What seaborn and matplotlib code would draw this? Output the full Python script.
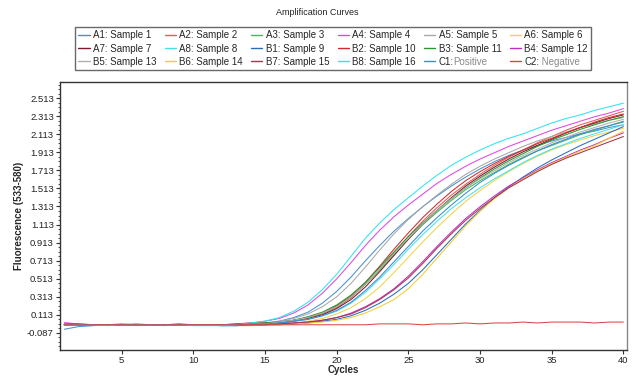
import numpy as np
import pandas as pd
import matplotlib
matplotlib.use("Agg")
import matplotlib.pyplot as plt
from matplotlib.ticker import FixedLocator
from matplotlib.lines import Line2D
import seaborn as sns

cycles = list(range(1, 41))

A1 = [-0.05,-0.02,-0.01,0.00,0.00,0.00,0.00,0.00,0.00,0.00,
      0.00,0.00,0.00,0.01,0.02,0.04,0.08,0.14,0.24,0.37,
      0.53,0.71,0.88,1.04,1.18,1.31,1.43,1.54,1.64,1.73,
      1.81,1.88,1.94,1.99,2.04,2.08,2.12,2.15,2.19,2.22]
A2 = [0.00,0.00,0.00,0.00,0.01,0.00,0.00,0.00,0.00,0.00,
      0.00,0.00,0.00,0.00,0.01,0.02,0.04,0.07,0.12,0.19,
      0.30,0.45,0.62,0.80,0.98,1.15,1.30,1.44,1.56,1.67,
      1.77,1.86,1.94,2.02,2.09,2.16,2.22,2.27,2.32,2.37]
A3 = [0.00,0.00,0.00,0.00,0.00,0.00,0.00,0.00,0.00,0.00,
      0.00,0.00,0.00,0.01,0.01,0.03,0.05,0.08,0.13,0.20,
      0.31,0.45,0.61,0.78,0.95,1.11,1.25,1.38,1.50,1.60,
      1.69,1.78,1.86,1.93,1.99,2.05,2.11,2.16,2.21,2.26]
A4 = [0.02,0.01,0.00,0.00,0.00,0.01,0.00,0.00,0.00,0.00,
      0.00,0.00,0.01,0.02,0.04,0.07,0.13,0.22,0.35,0.51,
      0.69,0.88,1.05,1.20,1.33,1.45,1.57,1.67,1.76,1.84,
      1.91,1.98,2.04,2.10,2.16,2.21,2.26,2.31,2.35,2.40]
A5 = [0.00,0.00,0.00,0.00,0.00,0.00,0.00,-0.01,0.00,0.00,
      0.00,0.00,0.00,0.01,0.02,0.04,0.07,0.12,0.20,0.31,
      0.46,0.64,0.83,1.01,1.17,1.31,1.44,1.56,1.67,1.76,
      1.84,1.91,1.98,2.04,2.09,2.14,2.19,2.23,2.27,2.30]
A6 = [0.00,0.00,0.00,0.00,0.00,0.00,0.00,0.00,0.00,0.00,
      0.00,0.00,-0.01,-0.01,0.00,0.01,0.02,0.04,0.07,0.12,
      0.19,0.29,0.42,0.58,0.75,0.92,1.08,1.23,1.37,1.49,
      1.60,1.70,1.79,1.87,1.94,2.00,2.05,2.10,2.14,2.18]
A7 = [0.00,0.00,0.00,0.00,0.00,0.00,0.00,0.00,0.00,0.00,
      0.00,0.00,0.00,0.01,0.01,0.02,0.04,0.07,0.11,0.18,
      0.28,0.42,0.59,0.77,0.95,1.12,1.27,1.41,1.54,1.65,
      1.75,1.84,1.92,1.99,2.06,2.13,2.19,2.24,2.29,2.33]
A8 = [0.00,0.00,0.00,0.00,0.00,0.00,0.00,0.00,0.00,0.00,
      0.00,-0.01,-0.01,0.00,0.01,0.02,0.04,0.06,0.10,0.15,
      0.24,0.36,0.51,0.67,0.84,1.00,1.15,1.29,1.41,1.52,
      1.62,1.71,1.80,1.88,1.95,2.01,2.07,2.12,2.17,2.22]
B1 = [0.00,0.00,0.00,0.00,0.00,0.00,0.00,0.00,0.00,0.00,
      0.00,-0.01,-0.01,0.00,0.00,0.00,0.01,0.02,0.04,0.06,
      0.10,0.16,0.24,0.34,0.46,0.61,0.78,0.95,1.12,1.27,
      1.41,1.53,1.64,1.74,1.83,1.91,1.99,2.06,2.13,2.20]
B2 = [0.00,0.00,0.00,0.00,0.00,0.00,0.00,0.00,0.01,0.00,
      0.00,0.00,0.01,0.02,0.02,0.03,0.05,0.08,0.13,0.21,
      0.32,0.47,0.65,0.84,1.02,1.19,1.34,1.48,1.60,1.70,
      1.79,1.87,1.94,2.01,2.07,2.13,2.19,2.25,2.30,2.34]
B3 = [0.00,0.00,0.00,0.00,0.00,0.00,0.00,0.00,0.00,0.00,
      0.00,0.00,0.00,0.01,0.02,0.03,0.05,0.09,0.14,0.22,
      0.33,0.47,0.64,0.81,0.98,1.13,1.27,1.40,1.52,1.63,
      1.73,1.82,1.90,1.98,2.05,2.11,2.17,2.22,2.27,2.31]
B4 = [0.02,0.01,0.00,0.00,0.00,0.00,0.00,0.00,0.00,0.00,
      0.00,0.00,0.00,0.00,0.00,0.01,0.02,0.03,0.05,0.08,
      0.13,0.20,0.29,0.40,0.54,0.70,0.87,1.03,1.18,1.31,
      1.43,1.54,1.63,1.72,1.80,1.87,1.94,2.00,2.07,2.13]
B5 = [0.00,0.00,0.00,0.00,0.00,0.00,0.00,0.00,0.00,0.00,
      0.00,0.00,0.00,0.01,0.01,0.03,0.05,0.08,0.13,0.20,
      0.31,0.45,0.62,0.79,0.96,1.12,1.27,1.40,1.52,1.62,
      1.71,1.80,1.88,1.95,2.02,2.08,2.14,2.19,2.24,2.28]
B6 = [0.00,0.00,0.00,0.00,0.00,0.00,0.00,0.00,0.00,0.00,
      0.00,0.00,0.00,0.00,0.00,0.00,0.01,0.02,0.03,0.05,
      0.08,0.13,0.20,0.28,0.40,0.56,0.74,0.92,1.10,1.26,
      1.40,1.52,1.62,1.71,1.79,1.86,1.93,1.99,2.07,2.15]
B7 = [0.00,0.00,0.00,0.00,0.00,0.00,0.00,0.00,0.00,0.00,
      0.00,0.00,0.00,0.00,0.00,0.01,0.02,0.03,0.05,0.08,
      0.12,0.19,0.28,0.39,0.52,0.68,0.85,1.01,1.16,1.29,
      1.41,1.52,1.61,1.70,1.78,1.85,1.91,1.97,2.03,2.09]
B8 = [0.00,0.00,0.00,-0.01,0.00,0.00,0.00,0.00,0.00,-0.01,
      -0.01,-0.01,0.00,0.02,0.04,0.08,0.15,0.25,0.39,0.56,
      0.76,0.96,1.13,1.28,1.41,1.54,1.66,1.77,1.86,1.94,
      2.01,2.07,2.12,2.18,2.24,2.29,2.33,2.38,2.42,2.46]
C1 = [0.00,0.00,0.00,0.00,0.00,0.00,0.00,0.00,0.00,0.00,
      0.00,0.00,0.00,0.01,0.01,0.02,0.04,0.06,0.10,0.16,
      0.25,0.38,0.53,0.70,0.87,1.04,1.19,1.33,1.46,1.58,
      1.68,1.77,1.85,1.93,2.00,2.06,2.12,2.17,2.21,2.25]
C2 = [0.00,0.00,0.00,0.00,0.00,0.00,0.00,0.00,0.00,0.00,
      0.00,0.00,0.00,0.00,0.00,0.00,0.00,0.00,0.00,0.00,
      0.00,0.00,0.01,0.01,0.01,0.00,0.01,0.01,0.02,0.01,
      0.02,0.02,0.03,0.02,0.03,0.03,0.03,0.02,0.03,0.03]

wells = ["A1","A2","A3","A4","A5","A6","A7","A8",
         "B1","B2","B3","B4","B5","B6","B7","B8","C1","C2"]
labels = ["A1: Sample 1","A2: Sample 2","A3: Sample 3","A4: Sample 4",
          "A5: Sample 5","A6: Sample 6","A7: Sample 7","A8: Sample 8",
          "B1: Sample 9","B2: Sample 10","B3: Sample 11","B4: Sample 12",
          "B5: Sample 13","B6: Sample 14","B7: Sample 15","B8: Sample 16",
          "C1:","C2:"]
label_suffix = {"C1:": "Positive", "C2:": " Negative"}
colors = ["#4a90d0","#e05a5a","#44b854","#e048e0","#a8a8a8","#f2d24a",
          "#7a1a2a","#48e0e8","#2a6cc0","#d42a2a","#229a2a","#c828c8",
          "#b0b0b0","#f5cc30","#a0384a","#30e4f0","#3c8ad2","#d84848"]
series = [A1,A2,A3,A4,A5,A6,A7,A8,B1,B2,B3,B4,B5,B6,B7,B8,C1,C2]

ytick_vals = [-0.087,0.113,0.313,0.513,0.713,0.913,1.113,1.313,1.513,
              1.713,1.913,2.113,2.313,2.513]
ytick_labels = ["-0.087","0.113","0.313","0.513","0.713","0.913","1.113",
                "1.313","1.513","1.713","1.913","2.113","2.313","2.513"]
xtick_vals = [5,10,15,20,25,30,35,40]

rows = []
for w, s in zip(wells, series):
    for c, v in zip(cycles, s):
        rows.append((w, c, v))
df = pd.DataFrame(rows, columns=["well","cycle","fluor"])

sns.set_style("white")
plt.rcParams['font.family'] = ['Liberation Sans', 'DejaVu Sans']

fig = plt.figure(figsize=(6.38, 3.79), dpi=100)
ax = fig.add_axes([60/638, 29/379, 567/638, 268/379])

palette = dict(zip(wells, colors))
sns.lineplot(data=df, x="cycle", y="fluor", hue="well", palette=palette,
             linewidth=0.75, ax=ax, legend=False, sort=True)

ax.set_xlim(0.7, 40.25)
ax.set_ylim(-0.28, 2.695)
ax.xaxis.set_major_locator(FixedLocator(xtick_vals))
ax.set_xticklabels([str(v) for v in xtick_vals])
ax.yaxis.set_major_locator(FixedLocator(ytick_vals))
ax.set_yticklabels(ytick_labels)
ax.yaxis.set_minor_locator(FixedLocator(list(np.arange(-0.237, 2.70, 0.05))))
ax.tick_params(axis="both", which="major", direction="out", length=3,
               width=0.8, labelsize=6.8, pad=1.5, colors="#333333",
               labelcolor="#222222", left=True, bottom=True)
ax.tick_params(axis="y", which="minor", direction="out", length=1.8,
               width=0.6, colors="#333333", left=True)
for sp in ax.spines.values():
    sp.set_color("#333333")
    sp.set_linewidth(1.0)
ax.spines["right"].set_color("#888888")

ax.set_xlabel("Cycles", fontsize=7, fontweight="bold", labelpad=0)
ax.set_ylabel("Fluorescence (533-580)", fontsize=7, fontweight="bold", labelpad=2)

fig.text(0.498, 0.968, "Amplification Curves", fontsize=6.5, ha="center",
         va="center", color="#222222")

handles = [Line2D([0],[0], color=c, lw=1.0) for c in colors]
# legend is filled column-wise; reorder so it reads row-wise (6 columns, 3 rows)
order = []
for col in range(6):
    for row in range(3):
        order.append(row*6 + col)
leg = fig.legend([handles[i] for i in order], [labels[i] for i in order],
                 ncol=6, loc="upper left", bbox_to_anchor=(75/638, 1-27/379),
                 bbox_transform=fig.transFigure, fontsize=7, frameon=True,
                 fancybox=False, edgecolor="#444444", handlelength=1.15,
                 handletextpad=0.35, columnspacing=0.85, labelspacing=0.32,
                 borderpad=0.35, borderaxespad=0)
leg.get_frame().set_linewidth(1.0)

fig.canvas.draw()
renderer = fig.canvas.get_renderer()
inv = fig.transFigure.inverted()
for t in leg.get_texts():
    txt = t.get_text()
    if txt in label_suffix:
        bb = t.get_window_extent(renderer)
        x0, y0 = inv.transform((bb.x1, bb.y0))
        fig.text(x0, y0, label_suffix[txt], fontsize=7, color="#8a8a8a",
                 ha="left", va="bottom", zorder=20)

fig.savefig("out.png", dpi=100, facecolor="white")
